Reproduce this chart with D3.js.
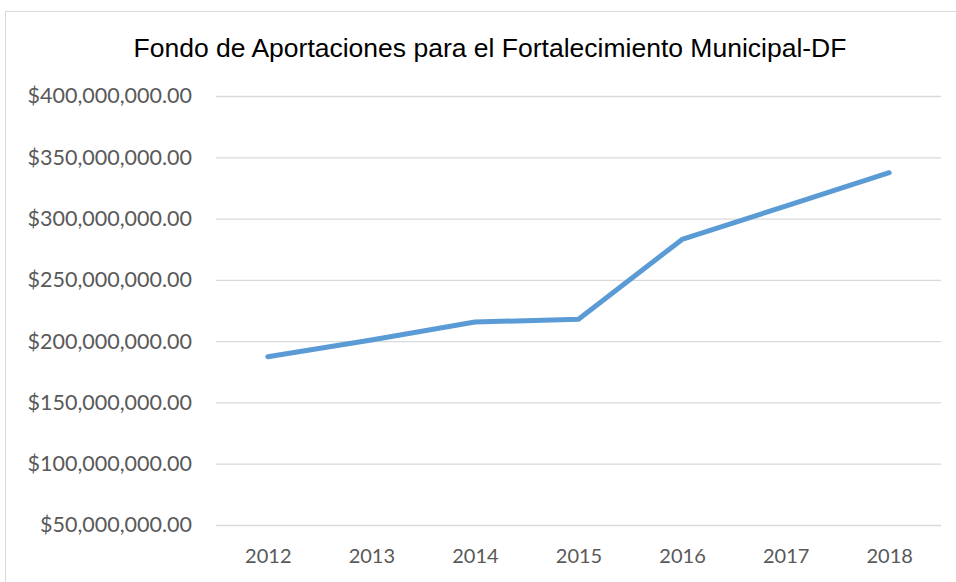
<!DOCTYPE html>
<html>
<head>
<meta charset="utf-8">
<script src="https://cdn.jsdelivr.net/npm/d3@7"></script>
<style>
  body { margin: 0; background: #fff; }
</style>
</head>
<body>
<div id="chart"></div>
<script>
// Data
const years = ["2012", "2013", "2014", "2015", "2016", "2017", "2018"];
const amounts = [187300000, 200900000, 215600000, 217800000, 283000000, 310200000, 337400000];
const yTicks = [50000000, 100000000, 150000000, 200000000, 250000000, 300000000, 350000000, 400000000];

const W = 956, H = 582;
const margin = { top: 96, right: 15, bottom: 57, left: 216 };
const width = W - margin.left - margin.right;
const height = H - margin.top - margin.bottom;

const svg = d3.select("#chart").append("svg")
    .attr("width", W)
    .attr("height", H);

// chart border
svg.append("rect")
    .attr("x", 5.5)
    .attr("y", 11.5)
    .attr("width", 980)
    .attr("height", 600)
    .attr("fill", "none")
    .attr("stroke", "#d9d9d9")
    .attr("stroke-width", 1);

// title
svg.append("text")
    .attr("x", 490)
    .attr("y", 57)
    .attr("text-anchor", "middle")
    .style("font-family", "'Liberation Sans', Arial, sans-serif")
    .style("font-size", "26.5px")
    .style("fill", "#000")
    .text("Fondo de Aportaciones para el Fortalecimiento Municipal-DF");

const g = svg.append("g")
    .attr("transform", `translate(${margin.left},${margin.top})`);

const x = d3.scalePoint()
    .domain(years)
    .range([0, width])
    .padding(0.5);

const y = d3.scaleLinear()
    .domain([50000000, 400000000])
    .range([height, 0]);

const fmt = d => "$" + d3.format(",.2f")(d);

// gridlines + y labels
const yAxis = g.append("g")
    .call(d3.axisLeft(y).tickValues(yTicks).tickSize(-width).tickPadding(24).tickFormat(fmt));
yAxis.select(".domain").remove();
yAxis.selectAll(".tick line").attr("stroke", "#d9d9d9").attr("stroke-width", 1.3);
yAxis.selectAll(".tick text")
    .style("font-family", "Lato, 'Open Sans', sans-serif")
    .style("font-size", "21.5px")
    .style("fill", "#595959");

// x labels
const xAxis = g.append("g")
    .attr("transform", `translate(0,${height})`)
    .call(d3.axisBottom(x).tickSize(0));
xAxis.select(".domain").remove();
xAxis.selectAll(".tick text")
    .attr("y", 38)
    .attr("dy", 0)
    .style("font-family", "Lato, 'Open Sans', sans-serif")
    .style("font-size", "20px")
    .style("fill", "#595959");

// line
const line = d3.line()
    .x((d, i) => x(years[i]))
    .y(d => y(d));

g.append("path")
    .datum(amounts)
    .attr("d", line)
    .attr("fill", "none")
    .attr("stroke", "#5b9bd5")
    .attr("stroke-width", 5)
    .attr("stroke-linecap", "round")
    .attr("stroke-linejoin", "round");
</script>
</body>
</html>
